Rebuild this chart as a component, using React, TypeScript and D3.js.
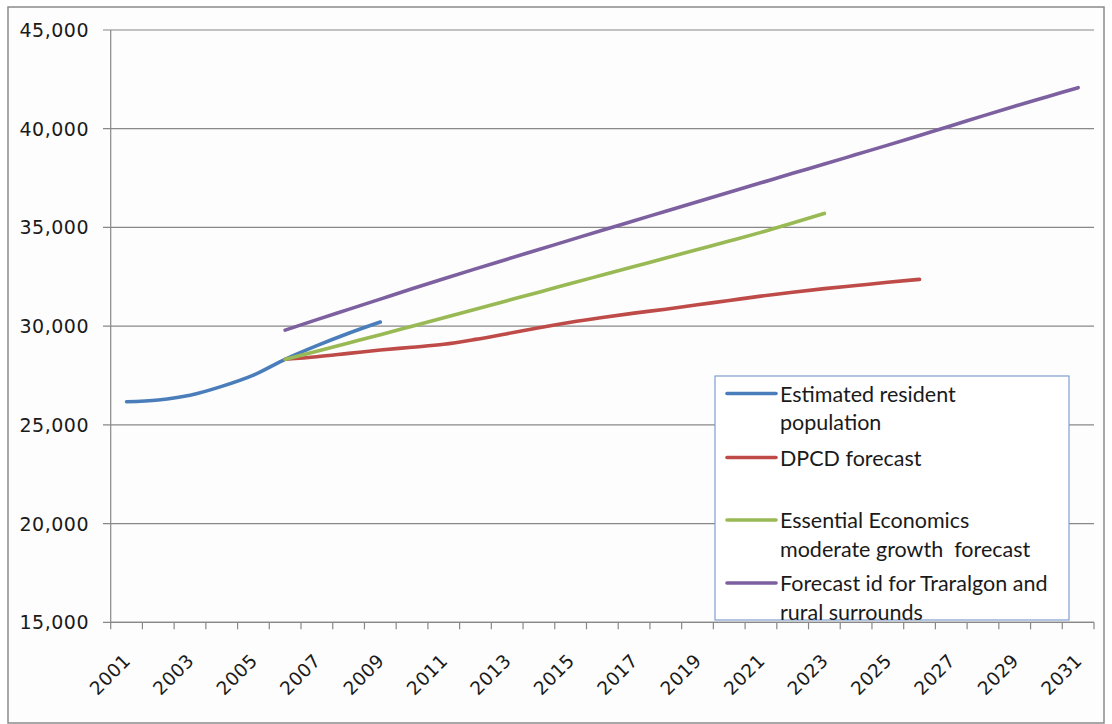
import React from "react";
import * as d3 from "d3";

const years: number[] = [
  2001, 2002, 2003, 2004, 2005, 2006, 2007, 2008, 2009, 2010, 2011, 2012, 2013, 2014, 2015, 2016,
  2017, 2018, 2019, 2020, 2021, 2022, 2023, 2024, 2025, 2026, 2027, 2028, 2029, 2030, 2031,
];
const tickLabelYears: number[] = years.filter((y, i) => i % 2 === 0);
const yTicks: number[] = [15000, 20000, 25000, 30000, 35000, 40000, 45000];

const ervYears: number[] = [2001, 2002, 2003, 2004, 2005, 2006, 2007, 2008, 2009];
const ervValues: number[] = [26170, 26260, 26500, 26950, 27520, 28320, 29010, 29640, 30210];

const dpcdYears: number[] = [2006, 2007, 2008, 2009, 2010, 2011, 2012, 2013, 2014, 2015, 2016, 2017, 2018, 2019, 2020, 2021, 2022, 2023, 2024, 2025, 2026];
const dpcdValues: number[] = [28320, 28450, 28620, 28790, 28930, 29080, 29330, 29620, 29920, 30200, 30440, 30660, 30860, 31080, 31300, 31520, 31720, 31900, 32060, 32220, 32370];

const eeYears: number[] = [2006, 2007, 2008, 2009, 2010, 2011, 2012, 2013, 2014, 2015, 2016, 2017, 2018, 2019, 2020, 2021, 2022, 2023];
const eeValues: number[] = [28320, 28730, 29150, 29570, 30000, 30430, 30860, 31290, 31720, 32160, 32590, 33020, 33450, 33880, 34310, 34750, 35220, 35710];

const idYears: number[] = [2006, 2007, 2008, 2009, 2010, 2011, 2012, 2013, 2014, 2015, 2016, 2017, 2018, 2019, 2020, 2021, 2022, 2023, 2024, 2025, 2026, 2027, 2028, 2029, 2030, 2031];
const idValues: number[] = [29800, 30330, 30850, 31370, 31890, 32400, 32900, 33390, 33880, 34370, 34860, 35340, 35820, 36300, 36780, 37260, 37740, 38210, 38690, 39170, 39660, 40150, 40650, 41140, 41610, 42080];

const seriesNames: string[][] = [
  ["Estimated resident", "population"],
  ["DPCD forecast"],
  ["Essential Economics", "moderate growth  forecast"],
  ["Forecast id for Traralgon and", "rural surrounds"],
];
const seriesColors: string[] = ["#4A7EBB", "#BE4B48", "#98B954", "#7D60A0"];

export default function App() {
  const W = 1112;
  const H = 724;
  const left = 110.7;
  const right = 1094;
  const top = 30;
  const bottom = 622.3;

  const x = d3.scaleBand<number>().domain(years).range([left, right]).padding(0);
  const cx = (yr: number) => (x(yr) as number) + x.bandwidth() / 2;
  const y = d3.scaleLinear().domain([15000, 45000]).range([bottom, top]);

  const line = d3
    .line<[number, number]>()
    .x((d) => cx(d[0]))
    .y((d) => y(d[1]))
    .curve(d3.curveMonotoneX);

  const series: [number, number][][] = [
    ervYears.map((yr, i) => [yr, ervValues[i]]),
    dpcdYears.map((yr, i) => [yr, dpcdValues[i]]),
    eeYears.map((yr, i) => [yr, eeValues[i]]),
    idYears.map((yr, i) => [yr, idValues[i]]),
  ];

  const fmt = d3.format(",");
  const tickBoundaries = years.map((yr) => x(yr) as number).concat([right]);

  const legX = 715;
  const legY = 376;
  const legW = 354;
  const legH = 244;
  const entryY = [393.5, 457.5, 520, 583];
  const lineH = 28.5;

  return (
    <svg
      width={W}
      height={H}
      style={{ position: "absolute", left: 0, top: 0, background: "#ffffff" }}
    >
      <rect x={8} y={7} width={1096} height={716} fill="#fdfdfd" stroke="#8a8a8a" strokeWidth={1.5} />
      {yTicks.map((t) => (
        <g key={t}>
          <line x1={103} x2={right} y1={y(t)} y2={y(t)} stroke="#888888" strokeWidth={1.2} />
          <text
            x={89}
            y={y(t) + 7}
            textAnchor="end"
            fontFamily="DejaVu Sans, Verdana, sans-serif"
            fontSize={19}
            letterSpacing={0.5}
            fill="#1a1a1a"
          >
            {fmt(t)}
          </text>
        </g>
      ))}
      <line x1={left} x2={left} y1={top} y2={bottom} stroke="#888888" strokeWidth={1.2} />
      <line x1={left} x2={right} y1={bottom} y2={bottom} stroke="#888888" strokeWidth={1.2} />
      {tickBoundaries.map((tx, i) => (
        <line key={i} x1={tx} x2={tx} y1={bottom} y2={bottom + 7} stroke="#888888" strokeWidth={1.2} />
      ))}
      {tickLabelYears.map((yr) => (
        <text
          key={yr}
          transform={`translate(${cx(yr) + 5},${662}) rotate(-45)`}
          textAnchor="end"
          fontFamily="DejaVu Sans, Verdana, sans-serif"
          fontSize={18.5}
          letterSpacing={0.3}
          fill="#1a1a1a"
        >
          {yr}
        </text>
      ))}
      {series.map((s, i) => (
        <path
          key={i}
          d={line(s) || ""}
          fill="none"
          stroke={seriesColors[i]}
          strokeWidth={3.6}
          strokeLinecap="round"
          strokeLinejoin="round"
        />
      ))}
      <rect x={legX} y={legY} width={legW} height={legH} fill="#ffffff" stroke="#7f9fd0" strokeWidth={1.2} />
      {seriesNames.map((names, i) => (
        <g key={i}>
          <line
            x1={727}
            x2={776}
            y1={entryY[i]}
            y2={entryY[i]}
            stroke={seriesColors[i]}
            strokeWidth={3.6}
            strokeLinecap="round"
          />
          {names.map((n, j) => (
            <text
              key={j}
              x={780}
              y={entryY[i] + 8 + j * lineH}
              fontFamily="Lato, 'Open Sans', sans-serif"
              fontSize={21.5}
              fill="#1a1a1a"
              style={{ whiteSpace: "pre" }}
            >
              {n}
            </text>
          ))}
        </g>
      ))}
    </svg>
  );
}
